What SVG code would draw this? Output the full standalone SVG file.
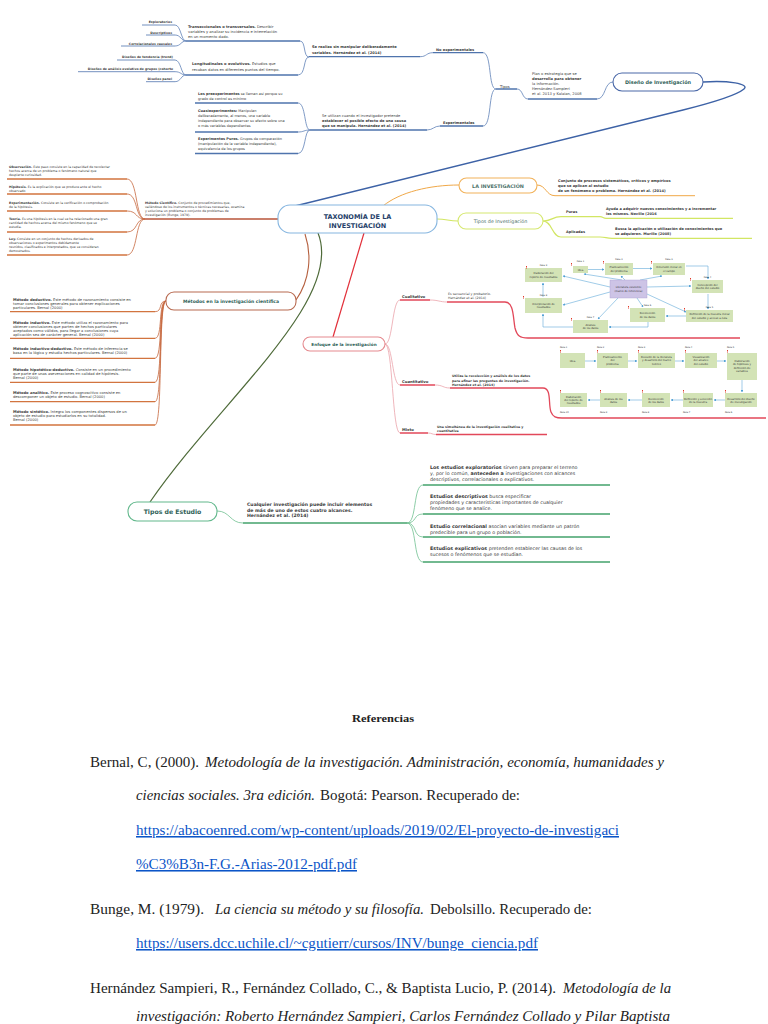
<svg xmlns="http://www.w3.org/2000/svg" width="768" height="1024" viewBox="0 0 768 1024">
<style>
text{font-family:"DejaVu Sans","Liberation Sans",sans-serif;fill:#3a3a3a}
.b{font-weight:bold}
.nt{font-weight:bold;fill:#2f5f58;text-anchor:middle}
.cb{fill:none;stroke:#5f82b8;stroke-width:0.8}
.ub{fill:none;stroke:#4f74ad;stroke-width:1.3}
.co{fill:none;stroke:#f0a848;stroke-width:1}
.cy{fill:none;stroke:#d2e663;stroke-width:1.2}
.cr{fill:none;stroke:#c7683f;stroke-width:0.8}
.ur{fill:none;stroke:#d2743f;stroke-width:1.3}
.cp{fill:none;stroke:#eba3ab;stroke-width:0.8}
.up{fill:none;stroke:#e2485a;stroke-width:1.3}
.cg{fill:none;stroke:#70c090;stroke-width:0.8}
.ug{fill:none;stroke:#44a36c;stroke-width:1.4}
.node{fill:#fff;stroke-width:1.1}
.fb{fill:#d3e3b6}
.ft{font-size:2.6px;text-anchor:middle;fill:#333}
.fl{font-size:2.3px;fill:#555}
.ar{fill:none;stroke:#62aad8;stroke-width:0.6;marker-end:url(#ah)}
.ref{font-family:"Liberation Serif","Times New Roman",serif;font-size:15.5px;fill:#222}
.it{font-style:italic}
.lk{fill:#0b55c8;text-decoration:underline}
</style>
<defs>
<marker id="ah" viewBox="0 0 6 6" refX="5" refY="3" markerWidth="4" markerHeight="4" orient="auto"><path d="M0,0 L6,3 L0,6z" fill="#4d9fd4"/></marker>
<path id="q" d="M0,0h1v1.5h-1z M0,2h1v0.6h-1z" fill="#e03a2a"/>
</defs>
<rect width="768" height="1024" fill="#fff"/>

<g id="connectors">
<path class="cb" d="M175,25 C181,25 181,41 186,41 M175,35 C181,35 181,41 186,41 M175,46 C181,46 181,41 186,41"/>
<path class="cb" d="M175,60 C181,60 181,75 186,75 M175,71.7 C181,71.7 181,75 186,75 M175,81.7 C181,81.7 181,75 186,75"/>
<path class="cb" d="M300,41 C306,41 303,57 309,57 M298,75 C306,75 303,57 309,57"/>
<path class="cb" d="M420,56.7 C427,56.7 426,52.7 433,52.7"/>
<path class="cb" d="M483,52.7 C492,52.7 488,89 496,89 M483,126 C492,126 488,89 496,89"/>
<path class="cb" d="M517,89 C523,89 522,99 528,99 M597,99 C606,99 604,82 613,82"/>
<path class="cb" d="M298,103 C306,103 304,130 310,130 M298,132 C304,132 304,130 310,130 M298,153.5 C306,153.5 304,130 310,130"/>
<path class="cb" d="M427,130 C433,130 434,126 440,126"/>
<path fill="none" stroke="#3d62a6" stroke-width="1.4" d="M703,82 C728,80 750,84 744,89 C738,94 715,102 683,110 L295,206"/>
<g class="ub">
<path stroke-width="0.8" d="M142,25H175 M146,35H175 M121,46H175 M117,60H175 M78,71.7H175 M146,81.7H175"/>
<path d="M186,41H300 M186,75H298 M309,56.7H420 M433,52.7H483 M496,89H517 M528,99H597"/>
<path d="M195,103H298 M195,132H298 M195,153.5H298 M310,130H427 M440,126H483"/>
</g>
<path class="co" d="M383,206 C400,192 430,185 459,185"/>
<path class="co" d="M537,185 C546,185 546,195.7 555,195.7"/>
<path class="co" stroke-width="1.4" d="M555,195.7H695"/>
<path class="cy" d="M437,219 C447,219 448,221 458,221"/>
<path class="cy" d="M543,221 C552,221 552,216.7 561,216.7 L600,216.7 C603,216.7 603,218.3 606,218.3 L733,218.3"/>
<path class="cy" d="M543,221 C552,221 552,237 561,237 L600,237 C606,237 606,238.3 612,238.3 L752,238.3"/>
<path fill="none" stroke="#b8553a" stroke-width="1.3" d="M145,219H278"/>
<path class="cr" d="M127,179 C138,179 135,219 145,219 M127,194 C138,194 135,219 145,219 M127,211 C138,211 135,219 145,219 M127,232 C138,232 135,219 145,219 M127,255 C138,255 135,219 145,219"/>
<path class="ur" d="M7,179H127 M7,194H127 M7,211H127 M7,232H127 M7,255H127"/>
<path fill="none" stroke="#b5603f" stroke-width="1.1" d="M305,234 C312,255 310,280 296,300"/>
<path class="cr" d="M155,311.7 C163,311.7 158,301 166,301 M155,338.3 C163,338.3 158,301 166,301 M155,358.3 C163,358.3 158,301 166,301 M155,382.3 C163,382.3 158,301 166,301 M155,401.7 C163,401.7 158,301 166,301 M155,425 C163,425 158,301 166,301"/>
<path class="ur" d="M10,311.7H155 M10,338.3H155 M10,358.3H155 M10,382.3H155 M10,401.7H155 M10,425H155"/>
<path fill="none" stroke="#e2303a" stroke-width="1.2" d="M364,233 L333,337"/>
<path class="cp" d="M385,344 C393,344 392,300 400,300 M385,344 C393,344 392,385 400,385 M385,344 C393,344 392,433 400,433"/>
<path class="cp" d="M430,300 C438,300 440,302 447,302 M435,385 C443,385 443,388 450,388 M428,433 C432,433 432,434.5 436,434.5"/>
<path class="up" d="M400,300H430 M400,385H435 M400,433H428"/>
<path class="up" d="M447,302 L505,302 C514,302 513,318 515,328 C517,336 520,338 528,338 L740,338"/>
<path class="up" d="M450,388 L543,388 C552,388 548,405 551,412 C553,417 556,418 562,418 L766,418"/>
<path class="up" d="M436,434.5H547"/>
<path fill="none" stroke="#4f6b3a" stroke-width="1.2" d="M318,233 C345,300 220,400 150,502"/>
<path class="cg" d="M217,511 C230,511 230,523 243,523"/>
<path class="cg" d="M407,523 C417,523 413,485 423,485 M407,523 C417,523 413,514 423,514 M407,523 C417,523 413,537 423,537 M407,523 C417,523 413,562 423,562"/>
<path class="ug" d="M243,523H407 M423,485H610 M423,514H610 M423,537H610 M423,562H610"/>
</g>

<g id="n-taxonomia">
<rect class="node" x="278" y="205" width="159" height="28" rx="12" stroke="#86b6e0" stroke-width="1.3"/>
<text x="357.5" y="218.5" font-size="6.5" class="b" text-anchor="middle" style="fill:#263f6a">TAXONOMÍA DE LA</text>
<text x="357.5" y="228" font-size="6.5" class="b" text-anchor="middle" style="fill:#263f6a">INVESTIGACIÓN</text>
</g>

<g id="n-diseno">
<rect class="node" x="613" y="73" width="90" height="18" rx="9" stroke="#4a68a8"/>
<text class="nt" x="658" y="84" font-size="4.9">Diseño de Investigación</text>
</g>
<g id="n-diseno-tipos" font-size="3.7">
<text x="532" y="75">Plan o estrategia que se</text>
<text x="532" y="80" class="b">desarrolla para obtener</text>
<text x="532" y="85">la información.</text>
<text x="532" y="90">Hernández-Sampieri</text>
<text x="532" y="95">et al. 2013 y Kalaian, 2008</text>
<text x="500" y="87.5">Tipos</text>
<text x="436" y="51" class="b" font-size="3.6">No experimentales</text>
<text x="443" y="124" class="b" font-size="3.6">Experimentales</text>
<text x="312" y="48" class="b" font-size="3.6">Se realiza sin manipular deliberadamente</text>
<text x="312" y="54" class="b" font-size="3.6">variables. Hernández et al. (2014)</text>
<text x="322" y="117" font-size="3.6">Se utilizan cuando el investigador pretende</text>
<text x="322" y="122" class="b" font-size="3.6">establecer el posible efecto de una causa</text>
<text x="322" y="127" class="b" font-size="3.6">que se manipula. Hernández et al. (2014)</text>
</g>
<g id="n-no-exp" font-size="3.7">
<text x="188" y="28"><tspan class="b">Transeccionales o transversales.</tspan> Describir</text>
<text x="188" y="33">variables y analizar su incidencia e interrelación</text>
<text x="188" y="38">en un momento dado.</text>
<text x="192" y="65"><tspan class="b">Longitudinales o evolutivos.</tspan> Estudios que</text>
<text x="192" y="71">recaban datos en diferentes puntos del tiempo.</text>
<g font-size="3.1" class="b" text-anchor="end">
<text x="172" y="23">Exploratorios</text>
<text x="172" y="33.5">Descriptivos</text>
<text x="172" y="44.5">Correlacionales causales</text>
<text x="173" y="58.3">Diseños de tendencia (trend)</text>
<text x="173" y="70">Diseños de análisis evolutivo de grupos (cohorte</text>
<text x="172" y="80">Diseños panel</text>
</g>
</g>
<g id="n-exp" font-size="3.5">
<text x="198" y="94.5"><tspan class="b">Los preexperimentos</tspan> se llaman así porque su</text>
<text x="198" y="99.5">grado de control es mínimo</text>
<text x="198" y="111.5"><tspan class="b">Cuasiexperimentos:</tspan> Manipulan</text>
<text x="198" y="116.5">deliberadamente, al menos, una variable</text>
<text x="198" y="121.5">independiente para observar su efecto sobre una</text>
<text x="198" y="126.5">o más variables dependientes</text>
<text x="198" y="139.5"><tspan class="b">Experimentos Puros.</tspan> Grupos de comparación</text>
<text x="198" y="144.5">(manipulación de la variable independiente),</text>
<text x="198" y="149.5">equivalencia de los grupos</text>
</g>

<g id="n-la-investigacion">
<rect class="node" x="459" y="178" width="78" height="15" rx="7.5" stroke="#f2b25a"/>
<text class="nt" x="498" y="187.6" font-size="4.9" style="fill:#4a7068">LA INVESTIGACIÓN</text>
<g font-size="3.6" class="b">
<text x="558" y="182">Conjunto de procesos sistemáticos, críticos y empíricos</text>
<text x="558" y="187">que se aplican al estudio</text>
<text x="558" y="192"> de un fenómeno o problema. Hernández et al. (2014)</text>
</g>
</g>

<g id="n-tipos-investigacion">
<rect class="node" x="458" y="213" width="85" height="16" rx="8" stroke="#d6e870"/>
<text x="500.5" y="222.8" font-size="4.8" text-anchor="middle" style="fill:#4a7068">Tipos de Investigación</text>
<g font-size="3.5" class="b">
<text x="566" y="213">Puras</text>
<text x="566" y="233">Aplicadas</text>
<text x="606" y="209.5">Ayuda a adquirir nuevos conocimientos y a incrementar</text>
<text x="606" y="214.5">los mismos. Novillo (2016</text>
<text x="615" y="229.5">Busca la aplicación o utilización de conocimientos que</text>
<text x="615" y="234.5">se adquieren. Murillo (2008)</text>
</g>
</g>

<g id="n-metodo-cientifico" font-size="3.15">
<text x="145" y="204"><tspan class="b">Método Científico.</tspan> Conjunto de procedimientos que,</text>
<text x="145" y="208">valiéndose de los instrumentos o técnicas necesarias, examina</text>
<text x="145" y="212">y soluciona un problema o conjunto de problemas de</text>
<text x="145" y="216">investigación (Bunge, 1979).</text>
<text x="9" y="167.5"><tspan class="b">Observación.</tspan> Este paso consiste en la capacidad de recolectar</text>
<text x="9" y="171.5">hechos acerca de un problema o fenómeno natural que</text>
<text x="9" y="175.5">despierte curiosidad.</text>
<text x="9" y="188"><tspan class="b">Hipótesis.</tspan> Es la explicación que se produce ante el hecho</text>
<text x="9" y="192">observado</text>
<text x="9" y="204"><tspan class="b">Experimentación.</tspan> Consiste en la verificación o comprobación</text>
<text x="9" y="208">de la hipótesis.</text>
<text x="9" y="220"><tspan class="b">Teoría.</tspan> Es una hipótesis en la cual se ha relacionado una gran</text>
<text x="9" y="224">cantidad de hechos acerca del mismo fenómeno que se</text>
<text x="9" y="228">estudia.</text>
<text x="9" y="239.5"><tspan class="b">Ley.</tspan> Consiste en un conjunto de hechos derivados de</text>
<text x="9" y="243.5">observaciones o experimentos debidamente</text>
<text x="9" y="247.5">reunidos, clasificados e interpretados, que se consideran</text>
<text x="9" y="251.5">demostrados.</text>
</g>

<g id="n-metodos">
<rect class="node" x="166" y="292" width="130" height="18" rx="8" stroke="#b86a50"/>
<text class="nt" x="231" y="303.3" font-size="4.5">Métodos en la investigación científica</text>
<g font-size="3.7">
<text x="13" y="301"><tspan class="b">Método deductivo.</tspan> Este método de razonamiento consiste en</text>
<text x="13" y="305">tomar conclusiones generales para obtener explicaciones</text>
<text x="13" y="309">particulares. Bernal (2000)</text>
<text x="13" y="324"><tspan class="b">Método inductivo.</tspan> Este método utiliza el razonamiento para</text>
<text x="13" y="328">obtener conclusiones que parten de hechos particulares</text>
<text x="13" y="332">aceptados como válidos, para llegar a conclusiones cuya</text>
<text x="13" y="336">aplicación sea de carácter general. Bernal (2000)</text>
<text x="13" y="350"><tspan class="b">Método inductivo-deductivo.</tspan> Este método de inferencia se</text>
<text x="13" y="354">basa en la lógica y estudia hechos particulares. Bernal (2000)</text>
<text x="13" y="371"><tspan class="b">Método hipotético-deductivo.</tspan> Consiste en un procedimiento</text>
<text x="13" y="375">que parte de unas aseveraciones en calidad de hipótesis.</text>
<text x="13" y="379">Bernal (2000)</text>
<text x="13" y="394"><tspan class="b">Método analítico.</tspan> Este proceso cognoscitivo consiste en</text>
<text x="13" y="398">descomponer un objeto de estudio. Bernal (2000)</text>
<text x="13" y="413"><tspan class="b">Método sintético.</tspan> Integra los componentes dispersos de un</text>
<text x="13" y="417">objeto de estudio para estudiarlos en su totalidad.</text>
<text x="13" y="421">Bernal (2000)</text>
</g>
</g>

<g id="n-enfoque">
<rect class="node" x="303" y="337" width="82" height="14" rx="7" stroke="#e58a8f"/>
<text class="nt" x="344" y="345.8" font-size="4.2">Enfoque de la investigación</text>
<text x="402" y="297.5" font-size="3.8" class="b">Cualitativo</text>
<text x="402" y="382.5" font-size="3.8" class="b">Cuantitativo</text>
<text x="402" y="430.5" font-size="3.8" class="b">Mixto</text>
<g font-size="3.2">
<text x="448" y="294.5">Es secuencial y probatorio.</text>
<text x="448" y="299">Hernández et al. (2014)</text>
<text x="452" y="377" class="b">Utiliza la recolección y análisis de los datos</text>
<text x="452" y="381.5" class="b">para afinar las preguntas de investigación.</text>
<text x="452" y="386" class="b">Hernández et al. (2014)</text>
<text x="437" y="427.5" class="b">Una simultánea de la investigación cualitativa y</text>
<text x="437" y="431.5" class="b">cuantitativa</text>
</g>
</g>

<g id="n-proceso-cualitativo">
<g class="ar">
<path d="M588,269.5H604"/>
<path d="M633,268.5H652"/>
<path d="M686,266 H708 V279"/>
<path d="M708,294 V309"/>
<path d="M686,316 H666"/>
<path d="M648,322 V327 H609"/>
<path d="M573,327 H543 V314"/>
<path d="M543,297 V283"/>
<path d="M610,287 L563,276"/>
<path d="M610,292 L563,305"/>
<path d="M622,280 L584,274"/>
<path d="M625,280 L621,276"/>
<path d="M640,280 L662,276"/>
<path d="M647,287 L691,286"/>
<path d="M647,294 L686,312"/>
<path d="M637,298 L643,307"/>
<path d="M618,298 L598,319"/>
</g>
<rect x="610" y="280" width="37" height="18" fill="#cdc4e6" stroke="#a99fd0" stroke-width="0.4"/>
<text class="ft" x="628.5" y="288">Literatura existente</text>
<text class="ft" x="628.5" y="291.5">(marco de referencia)</text>
<rect class="fb" x="525" y="268" width="37" height="14"/>
<text class="ft" x="543.5" y="274.3">Elaboración del</text>
<text class="ft" x="543.5" y="277.8">reporte de resultados</text>
<rect class="fb" x="573" y="266" width="15" height="7"/>
<text class="ft" x="580.5" y="270.5">Idea</text>
<rect class="fb" x="605" y="263" width="28" height="12"/>
<text class="ft" x="619" y="268.3">Planteamiento</text>
<text class="ft" x="619" y="271.8">del problema</text>
<rect class="fb" x="653" y="263" width="32" height="12"/>
<text class="ft" x="669" y="268.3">Inmersión inicial en</text>
<text class="ft" x="669" y="271.8">el campo</text>
<rect class="fb" x="692" y="280" width="31" height="13"/>
<text class="ft" x="707.5" y="285.8">Concepción del</text>
<text class="ft" x="707.5" y="289.3">diseño del estudio</text>
<rect class="fb" x="525" y="298" width="37" height="15"/>
<text class="ft" x="543.5" y="304.8">Interpretación de</text>
<text class="ft" x="543.5" y="308.3">resultados</text>
<rect class="fb" x="573" y="320" width="35" height="13"/>
<text class="ft" x="590.5" y="325.8">Análisis</text>
<text class="ft" x="590.5" y="329.3">de los datos</text>
<rect class="fb" x="630" y="308" width="35" height="14"/>
<text class="ft" x="647.5" y="314.3">Recolección</text>
<text class="ft" x="647.5" y="317.8">de los datos</text>
<rect class="fb" x="686" y="310" width="47" height="12"/>
<text class="ft" x="709.5" y="315.3">Definición de la muestra inicial</text>
<text class="ft" x="709.5" y="318.8">del estudio y acceso a ésta</text>
<g class="fl" text-anchor="middle">
<text x="543.5" y="266">Fase 9</text>
<text x="580.5" y="262">Fase 1</text>
<text x="619" y="260">Fase 2</text>
<text x="669" y="260">Fase 3</text>
<text x="707.5" y="278">Fase 4</text>
<text x="543.5" y="296">Fase 8</text>
<text x="590.5" y="318">Fase 7</text>
<text x="647.5" y="306">Fase 6</text>
<text x="709.5" y="308">Fase 5</text>
</g>
<use href="#q" x="526" y="266"/><use href="#q" x="571" y="263"/><use href="#q" x="603" y="261"/><use href="#q" x="651" y="261"/><use href="#q" x="690" y="278"/><use href="#q" x="523" y="296"/><use href="#q" x="571" y="318"/><use href="#q" x="628" y="306"/><use href="#q" x="684" y="308"/>
</g>

<g id="n-proceso-cuantitativo">
<g class="ar">
<path d="M585,361H596"/><path d="M628,361H637"/><path d="M675,361H684"/><path d="M717,361H726"/>
<path d="M742,380V392"/>
<path d="M725,400H714"/><path d="M683,400H671"/><path d="M642,400H628"/><path d="M600,400H588"/>
</g>
<g class="fb">
<rect x="560" y="353" width="25" height="15"/><rect x="597" y="353" width="31" height="15"/><rect x="638" y="353" width="37" height="15"/><rect x="685" y="353" width="32" height="15"/><rect x="727" y="353" width="30" height="27"/>
<rect x="560" y="393" width="27" height="14"/><rect x="600" y="393" width="27" height="14"/><rect x="642" y="393" width="28" height="14"/><rect x="683" y="393" width="30" height="14"/><rect x="725" y="393" width="32" height="14"/>
</g>
<text class="ft" x="572.5" y="361.8">Idea</text>
<text class="ft" x="612.5" y="358">Planteamiento</text><text class="ft" x="612.5" y="361.3">del</text><text class="ft" x="612.5" y="364.6">problema</text>
<text class="ft" x="656.5" y="358">Revisión de la literatura</text><text class="ft" x="656.5" y="361.3">y desarrollo del marco</text><text class="ft" x="656.5" y="364.6">teórico</text>
<text class="ft" x="701" y="358">Visualización</text><text class="ft" x="701" y="361.3">del alcance</text><text class="ft" x="701" y="364.6">del estudio</text>
<text class="ft" x="742" y="362">Elaboración</text><text class="ft" x="742" y="365.3">de hipótesis y</text><text class="ft" x="742" y="368.6">definición de</text><text class="ft" x="742" y="371.9">variables</text>
<text class="ft" x="573.5" y="397.5">Elaboración</text><text class="ft" x="573.5" y="400.8">del reporte de</text><text class="ft" x="573.5" y="404.1">resultados</text>
<text class="ft" x="613.5" y="399.5">Análisis de los</text><text class="ft" x="613.5" y="402.8">datos</text>
<text class="ft" x="656" y="399.5">Recolección</text><text class="ft" x="656" y="402.8">de los datos</text>
<text class="ft" x="698" y="399.5">Definición y selección</text><text class="ft" x="698" y="402.8">de la muestra</text>
<text class="ft" x="741" y="399.5">Desarrollo del diseño</text><text class="ft" x="741" y="402.8">de investigación</text>
<g class="fl">
<text x="560" y="348">Fase 1</text><text x="597" y="348">Fase 2</text><text x="638" y="348">Fase 3</text><text x="685" y="348">Fase 4</text><text x="727" y="348">Fase 5</text>
<text x="560" y="413">Fase 10</text><text x="600" y="413">Fase 9</text><text x="642" y="413">Fase 8</text><text x="683" y="413">Fase 7</text><text x="725" y="413">Fase 6</text>
</g>
<use href="#q" x="560" y="350"/><use href="#q" x="597" y="350"/><use href="#q" x="638" y="350"/><use href="#q" x="685" y="350"/><use href="#q" x="727" y="350"/>
<use href="#q" x="560" y="390"/><use href="#q" x="600" y="390"/><use href="#q" x="642" y="390"/><use href="#q" x="683" y="390"/><use href="#q" x="725" y="390"/>
</g>

<g id="n-tipos-estudio">
<rect class="node" x="128" y="502" width="89" height="19" rx="9" stroke="#62b88c" stroke-width="1.2"/>
<text class="nt" x="172.5" y="514" font-size="6.2">Tipos de Estudio</text>
<g font-size="4.6" class="b">
<text x="247" y="506">Cualquier investigación puede incluir elementos</text>
<text x="247" y="511.5"> de más de uno de estos cuatro alcances.</text>
<text x="247" y="517">Hernández et al. (2014)</text>
</g>
<g font-size="4.8">
<text x="430" y="468.5"><tspan class="b">Los estudios exploratorios</tspan> sirven para preparar el terreno</text>
<text x="430" y="474.5">y, por lo común, <tspan class="b">anteceden a</tspan> investigaciones con alcances</text>
<text x="430" y="480.5">descriptivos, correlacionales o explicativos.</text>
<text x="430" y="497.5"><tspan class="b">Estudios descriptivos</tspan> busca especificar</text>
<text x="430" y="503.5">propiedades y características importantes de cualquier</text>
<text x="430" y="509.5">fenómeno que se analice.</text>
<text x="430" y="527.5"><tspan class="b">Estudio correlacional</tspan> asocian variables mediante un patrón</text>
<text x="430" y="533.5">predecible para un grupo o población.</text>
<text x="430" y="549.5"><tspan class="b">Estudios explicativos</tspan> pretenden establecer las causas de los</text>
<text x="430" y="555.5">sucesos o fenómenos que se estudian.</text>
</g>
</g>

<g id="referencias" class="ref">
<text class="ref" x="383" y="722" text-anchor="middle" font-weight="bold" style="font-size:11px" textLength="62" lengthAdjust="spacingAndGlyphs">Referencias</text>
<text class="ref" y="767"><tspan x="90" textLength="109" lengthAdjust="spacingAndGlyphs">Bernal, C, (2000).</tspan><tspan class="it" x="205" textLength="459" lengthAdjust="spacingAndGlyphs">Metodología de la investigación. Administración, economía, humanidades y</tspan></text>
<text class="ref" y="800"><tspan class="it" x="136" textLength="179" lengthAdjust="spacingAndGlyphs">ciencias sociales. 3ra edición.</tspan><tspan x="320" textLength="200" lengthAdjust="spacingAndGlyphs">Bogotá: Pearson. Recuperado de:</tspan></text>
<text class="ref lk" x="136" y="835" textLength="483" lengthAdjust="spacingAndGlyphs">https://abacoenred.com/wp-content/uploads/2019/02/El-proyecto-de-investigaci</text>
<text class="ref lk" x="136" y="869" textLength="221" lengthAdjust="spacingAndGlyphs">%C3%B3n-F.G.-Arias-2012-pdf.pdf</text>
<text class="ref" y="914"><tspan x="90" textLength="114" lengthAdjust="spacingAndGlyphs">Bunge, M.  (1979).</tspan><tspan class="it" x="215" textLength="209" lengthAdjust="spacingAndGlyphs">La ciencia su método y su filosofía.</tspan><tspan x="430" textLength="162" lengthAdjust="spacingAndGlyphs">Debolsillo. Recuperado de:</tspan></text>
<text class="ref lk" x="136" y="948" textLength="402" lengthAdjust="spacingAndGlyphs">https://users.dcc.uchile.cl/~cgutierr/cursos/INV/bunge_ciencia.pdf</text>
<text class="ref" y="993"><tspan x="90" textLength="466" lengthAdjust="spacingAndGlyphs">Hernández Sampieri, R., Fernández Collado, C., &amp; Baptista Lucio, P. (2014).</tspan><tspan class="it" x="563" textLength="108" lengthAdjust="spacingAndGlyphs">Metodología de la</tspan></text>
<text class="ref it" x="136" y="1021" textLength="534" lengthAdjust="spacingAndGlyphs">investigación: Roberto Hernández Sampieri, Carlos Fernández Collado y Pilar Baptista</text>
</g>
</svg>
